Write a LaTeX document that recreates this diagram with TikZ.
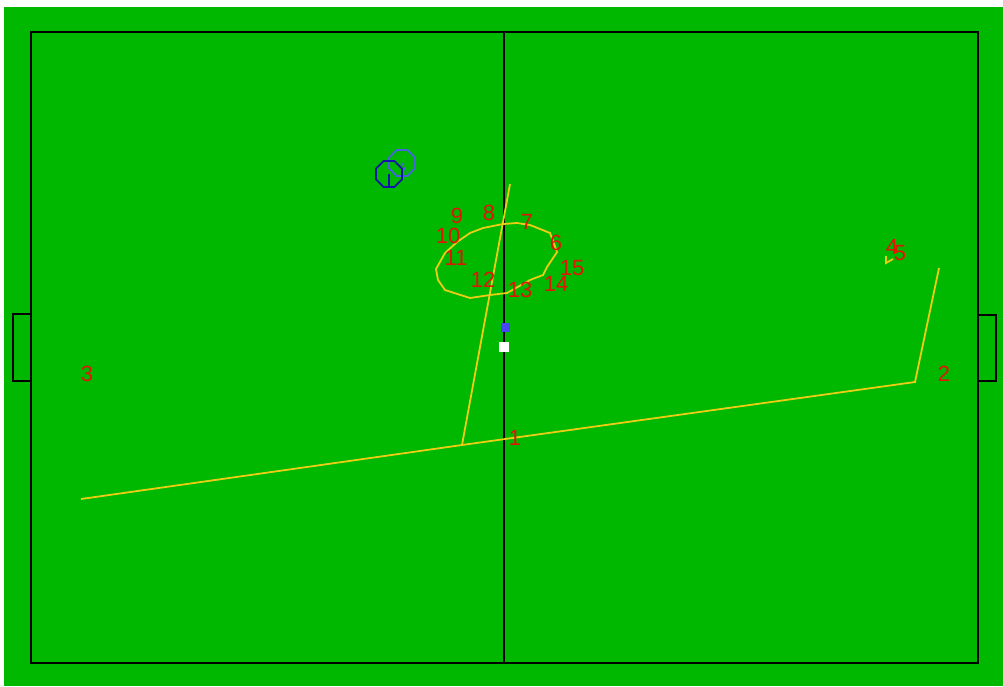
\documentclass[tikz,border=0pt]{standalone}
\usepackage{fontspec}
\setmainfont{Liberation Sans}
\definecolor{pitch}{RGB}{0,184,0}
\definecolor{trail}{RGB}{235,205,20}
\definecolor{numred}{RGB}{225,20,0}
\definecolor{homeblue}{RGB}{20,20,170}
\definecolor{awayblue}{RGB}{70,100,220}
\definecolor{balldot}{RGB}{70,70,245}
\tikzset{
  fieldline/.style={line width=2.2pt, black},
  trailline/.style={line width=1.8pt, trail},
  num/.style={text=numred, font=\fontsize{22}{22}\selectfont, inner sep=0pt},
  player/.style={regular polygon, regular polygon sides=8, draw, line width=1.8pt, minimum size=28pt, inner sep=0pt}
}
\usetikzlibrary{shapes.geometric}
\begin{document}
\begin{tikzpicture}[x=1pt, y=-1pt]
    \useasboundingbox (0,0) rectangle (1003,686);
    % Draw the pitch
    \fill[pitch] (4,7) rectangle (1003,686);
    \draw[fieldline] (31,32) rectangle (978,663);
    \draw[fieldline] (504,32) -- (504,663);
    \draw[fieldline] (31,314) -- (13,314) -- (13,381) -- (31,381);
    \draw[fieldline] (978,315) -- (996,315) -- (996,381) -- (978,381);

    % Trail points
    \coordinate (t0) at (81,499);
    \coordinate (t1) at (462,445);
    \coordinate (t2) at (915,382);
    \coordinate (t3) at (939,268);
    \coordinate (t4) at (510,184);
    \draw[trailline] (t0) -- (t1) -- (t2) -- (t3);
    \draw[trailline] (t1) -- (t4);
    \draw[trailline] (436,269) -- (445,253) -- (457,242) -- (470,233) -- (483,228)
        -- (503,224) -- (517,223) -- (530,225) -- (550,233) -- (557,252)
        -- (547,267) -- (543,275) -- (530,280) -- (507,293) -- (490,295)
        -- (470,298) -- (445,290) -- (438,280) -- cycle;
    \draw[trailline] (886,256) -- (886,263) -- (893,259);

    % Players
    \node[player, draw=awayblue] (p2) at (402,163) {};
    \node[player, draw=homeblue] (p1) at (389,174) {};
    \draw[homeblue, line width=1.8pt] (p1.center) -- (p1.south);
    \draw[awayblue, line width=1.2pt] (p2.center) -- ++(4,9);

    % Ball and marker
    \node[fill=balldot, minimum size=9pt, inner sep=0pt] (ball) at (505,327) {};
    \node[fill=white, minimum size=10pt, inner sep=0pt] (mark) at (504,347) {};

    % Label points
    \node[num] (n1) at (515,438) {1};
    \node[num] (n2) at (944,374) {2};
    \node[num] (n3) at (87,374) {3};
    \node[num] (n4) at (892,247) {4};
    \node[num] (n5) at (900,253) {5};
    \node[num] (n6) at (556,243) {6};
    \node[num] (n7) at (527,222) {7};
    \node[num] (n8) at (489,213) {8};
    \node[num] (n9) at (457,216) {9};
    \node[num] (n10) at (448,236) {10};
    \node[num] (n11) at (456,258) {11};
    \node[num] (n12) at (483,280) {12};
    \node[num] (n13) at (520,290) {13};
    \node[num] (n14) at (556,284) {14};
    \node[num] (n15) at (572,268) {15};
\end{tikzpicture}
\end{document}
